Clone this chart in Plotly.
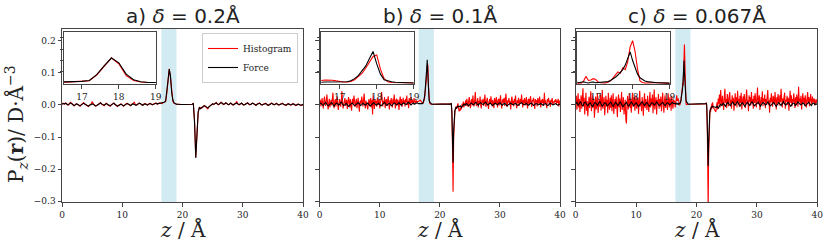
import numpy as np
import plotly.graph_objects as go

# ---------------- data (units of 1e-3 D/Å^3) ----------------
SCALE = 1e-3
panel_titles = ["a) <i>δ</i> = 0.2Å", "b) <i>δ</i> = 0.1Å", "c) <i>δ</i> = 0.067Å"]
core_steps = [0.2, 0.1, 1.0 / 15.0]
x_ticks = [0, 10, 20, 30, 40]
y_ticks = [-0.3, -0.2, -0.1, 0.0, 0.1, 0.2]
inset_x_ticks = [17, 18, 19]
inset_y_ticks = [0.05, 0.10, 0.15, 0.20]

# ---- panel a ----
a_force_left = [2, 4, 3, 5, 2, 0, 3, 6, 4, 1, -2, 0, 3, 2, -1, -3, 0, 2, 5, 3, 0, -2, -4, -1, 1, 3, 2, -1, -3, -2,
                1, 4, 6, 3, 0, -1, 2, 4, 1, -2, -3, 0, 3, 5, 2, -1, -4, -2, 1, 2, 0, -3, -1, 2, 4, 3, 0, -2, 1, 3,
                2, -1, 0, 3, 5, 4, 1, -1, 2, 3, 1, 0, 2, 4, 3, 1, 2, 4, 5, 3, 4, 5]
a_hist_left = [3, 5, 2, 6, 4, -1, 2, 8, 5, 0, -3, 1, 4, 1, -2, -4, 1, 3, 7, 2, -1, -3, -5, 0, 2, 10, 3, -2, -4, -1,
               2, 5, 7, 2, -1, -3, 3, 5, 0, -3, -4, 1, 4, 6, 1, -2, -5, -1, 2, 3, -1, -4, 0, 3, 5, 2, -1, -3, 2, 4,
               9, 0, -1, 2, 6, 3, 0, -2, 3, 4, 2, -1, 3, 5, 2, 0, 3, 5, 6, 2, 5, 6]
a_force_core = [4, 5, 6, 8, 12, 38, 76, 111, 90, 40, 15, 6, 3, 2, 2,
                1, 1, 1, 1, 1, 1, 1, 1, 1, 1, 1,
                2, 4, -55, -165, -70, -22, -9, -12]
a_hist_core = [5, 4, 7, 9, 11, 36, 75, 112, 86, 33, 12, 5, 3, 2, 2,
               1, 1, 1, 1, 1, 1, 1, 1, 1, 1, 1,
               2, 5, -50, -162, -72, -25, -8, -10]
a_force_right = [-8, -5, -3, -4, -8, -10, -6, -2, 1, 3, 2, 4, 6, 3, 1, 4, 7, 5, 2, 3, 6, 4, 1, 2, 5, 3, 0, 2, 4, 6,
                 3, 1, 3, 5, 2, 0, 1, 4, 6, 3, 1, 2, 5, 4, 1, -1, 2, 3, 5, 2, 0, 1, 3, 4, 2, -1, 0, 3, 5, 3,
                 1, 2, 4, 2, 0, 1, 3, 4, 2, 0, -1, 2, 3, 1, 0, 2, 3, 1, -1, 0, 2, 1, -1, 0, 1]
a_hist_right = [-10, -6, -2, -5, -9, -12, -5, -1, 2, 4, 1, 5, 8, 2, 0, 5, 9, 4, 1, 4, 7, 3, 0, 3, 6, 2, -1, 3, 5, 10,
                2, 0, 4, 6, 1, -1, 2, 5, 7, 2, 0, 3, 6, 3, 0, -2, 3, 4, 6, 1, -1, 2, 4, 5, 1, -2, 1, 4, 6, 2,
                0, 3, 5, 1, -1, 2, 4, 5, 1, -1, -2, 3, 4, 0, -1, 3, 4, 0, -2, 1, 3, 0, -2, -1, 0]

# ---- panel b ----
b_force_left = [3, 6, 1, -2, 4, 8, 2, -3, 0, 5, 7, 1, -4, 2, 6, 3, -1, 4, 9, 2, -2, 1, 5, 0, -5, -1, 4, 6, 2, -3,
                0, 3, 7, 4, -2, 1, 5, 2, -1, 3, 6, 1, -4, 0, 4, 7, 3, -1, 2, 5, 1, -3, 1, 6, 8, 2, -2, 3, 5, 0,
                -3, 2, 6, 4, 0, 3, 7, 2, -1, 4, 6, 3, 1, 5, 8, 3, 0, 4, 6, 2, 5, 7]
b_hist_left = [6, 16, -5, 11, 21, 2, -11, 14, 26, 5,
               -3, 13, 32, 8, -14, 3, 19, -8, 10, 16,
               -2, 22, 38, 3, -10, 11, 18, -5, 8, 27,
               0, -16, 5, 18, 10, -6, 14, 42, 6, -11,
               2, 13, 21, -3, 8, 16, -13, 3, 24, 11,
               -8, 18, 6, -18, 10, 19, 2, 29, 13, -6,
               5, 19, -10, 11, 22, 0, -21, 8, 14, 3,
               26, 10, -5, 16, 35, 5, -11, 13, 2, -10,
               -14, 6, 18, -2, 10, 21, -8, 14, -30, 30,
               8, -13, 18, 5, 13, -6, 22, 11, 0, 19,
               -11, 6, 16, 40, 10, -5, 13, 3, 24, -10,
               8, 18, -3, 11, 27, 5, -14, 14, 2, 21,
               10, -8, 19, 6, 32, 3, -11, 13, 19, -2,
               16, 8, -16, 11, 26, 2, 18, -6, 10, 22,
               5, 14, -5, 19, 8, 29, 0, 13, -10, 21,
               11, 3, 24, 6, 16, 10, 2, 21, 8, 13,
               5, 14, 10]
b_force_core = [4, 4, 5, 5, 4, 4, 3, 4, 6, 11, 20, 33, 52, 75, 108, 140, 85, 40, 15, 9, 6, 4, 3,
                2, 2, 2, 2, 2, 2, 2, 2, 2, 2, 2, 2, 2, 2, 2, 2, 2, 2, 2, 2, 2, 2, 2, 2, 2, 2, 2, 2, 2, 2, 2,
                3, 5, -20, -100, -180, -80, -35, -18, -11, -8, -10, -6, -4]
b_hist_core = [10, 12, 14, 15, 13, 10, 6, 5, 5, 8, 15, 27, 43, 66, 90, 118, 125, 62, 20, 6, 3, 2, 2,
               2, 2, 2, 2, 2, 2, 2, 2, 2, 2, 2, 2, 2, 2, 2, 2, 2, 2, 2, 2, 2, 2, 2, 2, 2, 2, 2, 2, 2, 2, 2,
               3, 6, -25, -130, -270, -100, -42, -22, -14, -5, -12, -2, 5]
b_force_right = [-6, -3, -8, -2, 2, -1, 4, 1, -3, 2, 6, 3, 0, 5, 8, 2, -1, 4, 7, 3, 1, 5, 9, 4, 0, 3, 6, 1, -2, 2,
                 5, 3, 0, 4, 7, 2, -1, 3, 5, 1, -3, 1, 4, 6, 2, 0, 3, 5, 1, -2, 2, 4, 7, 3, 0, 2, 5, 1, -1, 3,
                 6, 2, -2, 1, 4, 3, 0, 2, 5, 1, -1, 3, 4, 0, -2, 2, 5, 3, 0, 1, 4, 2, -1, 1, 3]
b_hist_right = [-20, -12, -18, -6, -14, 3, -5, 10, -8, 6,
                2, 14, -3, 19, 5, -6, 13, 24, 3, -10,
                11, 18, -2, 29, 8, -5, 14, 40, 6, -3,
                10, 21, -8, 13, 5, 26, 0, -11, 16, 6,
                19, -3, 11, 32, 2, -6, 14, 22, 5, -13,
                8, 18, 3, 27, 10, -5, 16, 6, -10, 21,
                13, 2, 24, 5, -8, 14, 19, -2, 10, 30,
                3, -11, 13, 18, 6, 22, -3, 10, 35, 5,
                -6, 14, 8, 21, 0, 11, -14, 16, 26, 3,
                13, -5, 19, 8, 29, 2, -10, 14, 6, 22,
                -3, 11, 18, 5, 32, 10, -8, 16, 3, 21,
                13, -2, 24, 6, -11, 14, 19, 0, 10, 27,
                5, -6, 16, 11, 22, 2, -13, 18, 8, 14,
                -5, 21, 10, 3, 26, 13, -8, 16, 5, 19,
                11, -3, 38, 6, 14, 2, -10, 18, 10, 22,
                3, 13, -6, 16, 8, 21, 0, 11, 5, 14,
                10, 18, 2, 13, 6, 19, -5, 10, 14]

# ---- panel c ----
c_force_left = [4, 8, -2, 5, 10, 1, -4, 6, 9, 2, -3, 3, 7, -1, -6, 2, 8, 4, -2, 5, 11, 3, -4, 1, 7, 5, -3, 0, 6, 9,
                1, -5, 2, 8, 3, -2, 4, 10, 2, -6, -1, 5, 8, 0, -4, 3, 9, 4, -3, 2, 7, 1, -5, 0, 6, 10, 3, -2, 4, 8,
                1, -4, 2, 7, 5, -1, 3, 9, 4, -2, 1, 6, 8, 2, -3, 4, 7, 3, 0, 5, 8, 4]
c_hist_left = [10, 28, -15, 4, 36, -8, 18, -22, 6, 30,
               -12, 14, 52, -5, 22, -30, 8, 38, -18, 12,
               -35, 2, 25, -10, 16, 42, -20, 6, 30, -8,
               20, -40, 4, 26, -14, 10, 34, -25, 0, 18,
               -6, 32, -18, 12, 46, -12, 5, 24, -32, 8,
               28, -4, 16, -26, 38, 2, -15, 22, -9, 30,
               -20, 10, 36, -28, 6, 18, -12, 26, 0, -38,
               14, 32, -8, 20, -22, 4, 40, -16, 10, 24,
               -30, 8, 16, -45, -58, 6, 28, -14, 12, 34,
               -10, 20, -24, 4, 38, -6, 14, 26, -18, 8,
               30, -12, 2, 22, -28, 16, 44, -4, 10, -20,
               24, 6, -34, 12, 36, -10, 18, 2, -16, 28,
               8, -22, 14, 40, -8, 20, -2, 32, -26, 10,
               48, -14, 6, 24, -30, 16, 4, 34, -12, 18,
               -6, 26, -20, 10, 38, 0, -24, 14, 30, -10,
               20, 6, -16, 36, 2, -8, 24, 12, -18, 28,
               4, -12, 16]
c_force_core = [3, 5, 2, 4, 6, 3, 1, 4, 5, 2, 3, 4, 3, 5, 7, 12, 18, 26, 36, 47, 60, 80, 105, 138, 100, 65, 40, 24,
                15, 10, 7, 5, 4, 3,
                2, 2, 2, 2, 2, 2, 2, 2, 2, 2, 2, 2, 2, 2, 2, 2, 2, 2, 2, 2, 2, 2, 2, 2, 2, 2, 2, 2, 2, 2, 2, 2, 2,
                2, 2, 2, 2, 2, 2, 2, 2, 2,
                3, 4, 5, 3, -15, -60, -130, -190, -120, -70, -40, -25, -16, -11, -8, -9, -5, -7, -3, -5]
c_hist_core = [10, -8, 2, 0, 8, 30, 12, 14, 20, 16, 5, 2, 0, 1, 4, 10, 22, 36, 50, 44, 68, 60, 95, 160, 188, 140, 62,
               10, 3, 1, 2, 1, 2, 2,
               2, 2, 2, 2, 2, 2, 2, 2, 2, 2, 2, 2, 2, 2, 2, 2, 2, 2, 2, 2, 2, 2, 2, 2, 2, 2, 2, 2, 2, 2, 2, 2, 2,
               2, 2, 2, 2, 2, 2, 2, 2, 2,
               3, 5, 6, 2, -25, -90, -200, -330, -170, -90, -50, -30, -15, -22, -5, -14, 4, -10, 8, -6]
c_force_right = [-8, -4, -10, -3, 2, -2, 5, 1, -4, 3, 8, 2, -3, 4, 9, 3, -1, 6, 10, 2, -4, 3, 7, 1, -5, 2, 8, 4, -2,
                 5, 9, 3, -3, 1, 6, 8, 2, -4, 3, 7, 5, -1, 2, 9, 4, -3, 0, 6, 8, 1, -5, 2, 7, 3, -2, 4, 10, 3, -1,
                 5, 8, 2, -4, 1, 6, 4, -2, 3, 9, 5, 0, 2, 7, 3, -3, 1, 5, 8, 2, -2, 4, 6, 1, 3, 2]
c_hist_right = [-22, -6, 8, -14, 20, 4, 32, -8, 46, 14,
                -2, 28, 10, -16, 22, 50, 6, 18, -10, 34,
                12, -4, 26, 40, 2, 16, -12, 30, 8, 22,
                -18, 14, 36, 4, 24, -8, 44, 10, 18, -6,
                28, 6, 38, -14, 16, 26, 0, 34, 12, -10,
                20, 48, 4, 14, -20, 30, 10, 24, -2, 40,
                8, 18, -12, 28, 6, 36, 14, -8, 22, 54,
                2, 16, 30, -16, 12, 24, 6, 42, -4, 20,
                10, 32, -10, 18, 4, 26, 46, 0, 14, -24,
                22, 8, 36, 12, -6, 28, 16, 2, 40, 10,
                -14, 24, 6, 34, 18, -2, 30, 8, 50, 12,
                -8, 20, 4, 26, 38, -12, 16, 10, 28, 0,
                22, -18, 14, 44, 6, 30, -4, 18, 8, 36,
                12, -10, 24, 2, 32, 16, -6, 56, 10, 20,
                4, 28, -14, 14, 36, 8, 22, -2, 30, 12,
                -8, 18, 40, 6, 24, -4, 16, 34, 10, 2,
                26, 8, 14, 20, -2, 12, 18, 6, 10]

panels = [
    (a_hist_left, a_hist_core, a_hist_right, a_force_left, a_force_core, a_force_right),
    (b_hist_left, b_hist_core, b_hist_right, b_force_left, b_force_core, b_force_right),
    (c_hist_left, c_hist_core, c_hist_right, c_force_left, c_force_core, c_force_right),
]


def build(left, core, right, step):
    zl = np.linspace(0.0, 16.2, len(left))
    zc = 16.4 + step * np.arange(len(core))
    zr = np.linspace(23.2, 40.0, len(right))
    z = np.concatenate([zl, zc, zr])
    v = np.concatenate([np.array(left), np.array(core), np.array(right)]) * SCALE
    return z, v


# ---------------- layout geometry (pixels) ----------------
W, H = 830, 249
main_x = [(62, 303), (319.7, 560), (575.7, 817.3)]
main_y = (29, 202.3)
inset_x = [(63.5, 155.7), (321.3, 413.7), (577.3, 669.5)]
inset_y = (32.3, 84.3)


def fx(p):
    return p / W


def fy(p):
    return 1 - p / H


AX = "#444444"
TXT = "#222222"
SERIF = "DejaVu Serif"

fig = go.Figure()
layout = dict(width=W, height=H, margin=dict(l=0, r=0, t=0, b=0, autoexpand=False),
              paper_bgcolor="white", plot_bgcolor="white", showlegend=True,
              font=dict(family=SERIF, size=9, color=TXT))

common = dict(showline=True, mirror=True, linecolor=AX, linewidth=1, ticks="outside", ticklen=3.5,
              tickwidth=1, tickcolor=AX, showgrid=False, zeroline=False, automargin=False,
              tickfont=dict(family=SERIF, size=9, color=TXT))

shapes = []
annotations = []
for i, (hl, hc, hr, fl, fc, fr) in enumerate(panels):
    step = core_steps[i]
    zh, vh = build(hl, hc, hr, step)
    zf, vf = build(fl, fc, fr, step)
    m = i + 1
    n = i + 4
    sx = "" if m == 1 else str(m)
    # main axes
    layout["xaxis" + sx] = dict(common, domain=[fx(main_x[i][0]), fx(main_x[i][1])], range=[0, 40],
                                tickvals=x_ticks, anchor="y" + sx)
    layout["yaxis" + sx] = dict(common, domain=[fy(main_y[1]), fy(main_y[0])], range=[-0.303, 0.236],
                                tickvals=y_ticks, tickformat=".1f", showticklabels=(i == 0),
                                anchor="x" + sx)
    # inset axes
    layout["xaxis" + str(n)] = dict(common, domain=[fx(inset_x[i][0]), fx(inset_x[i][1])], range=[16.5, 19],
                                    tickvals=inset_x_ticks, anchor="y" + str(n))
    layout["yaxis" + str(n)] = dict(common, domain=[fy(inset_y[1]), fy(inset_y[0])], range=[-0.005, 0.225],
                                    tickvals=inset_y_ticks, showticklabels=False, ticklen=3,
                                    anchor="x" + str(n))
    # traces
    fig.add_trace(go.Scatter(x=zh, y=vh, mode="lines", line=dict(color="#ff0000", width=1.1),
                             name="Histogram", showlegend=(i == 0), xaxis="x" + sx, yaxis="y" + sx))
    fig.add_trace(go.Scatter(x=zf, y=vf, mode="lines", line=dict(color="#000000", width=1.1),
                             name="Force", showlegend=(i == 0), xaxis="x" + sx, yaxis="y" + sx))
    fig.add_trace(go.Scatter(x=zh, y=vh, mode="lines", line=dict(color="#ff0000", width=1.1),
                             showlegend=False, xaxis="x" + str(n), yaxis="y" + str(n)))
    fig.add_trace(go.Scatter(x=zf, y=vf, mode="lines", line=dict(color="#000000", width=1.1),
                             showlegend=False, xaxis="x" + str(n), yaxis="y" + str(n)))
    # highlighted span
    shapes.append(dict(type="rect", xref="x" + sx, yref="y" + sx + " domain", x0=16.5, x1=19, y0=0, y1=1,
                       fillcolor="lightblue", opacity=0.55, line=dict(width=0), layer="below"))
    # titles
    cx = (main_x[i][0] + main_x[i][1]) / 2
    annotations.append(dict(text=panel_titles[i], x=fx(cx), y=fy(16), xref="paper", yref="paper",
                            xanchor="center", yanchor="middle", showarrow=False,
                            font=dict(family="DejaVu Sans", size=20, color=TXT)))
    annotations.append(dict(text="<i>z</i> / Å", x=fx(cx), y=fy(229), xref="paper", yref="paper",
                            xanchor="center", yanchor="middle", showarrow=False,
                            font=dict(family=SERIF, size=20, color=TXT)))

annotations.append(dict(text="P<sub><i>z</i></sub>(<b>r</b>)/ D·Å<sup>−3</sup>", x=fx(16), y=fy(124),
                        xref="paper", yref="paper", xanchor="center", yanchor="middle", textangle=-90,
                        showarrow=False, font=dict(family=SERIF, size=20, color=TXT)))

layout["shapes"] = shapes
layout["annotations"] = annotations
layout["legend"] = dict(x=fx(298), xanchor="right", y=fy(33), yanchor="top", bgcolor="rgba(255,255,255,0.85)",
                        bordercolor="#cccccc", borderwidth=1, font=dict(family=SERIF, size=9, color=TXT),
                        tracegroupgap=0, itemwidth=30)
fig.update_layout(**layout)

fig.write_html("out.html", config={"displayModeBar": False},
               post_script="document.body.style.margin='0px';")
